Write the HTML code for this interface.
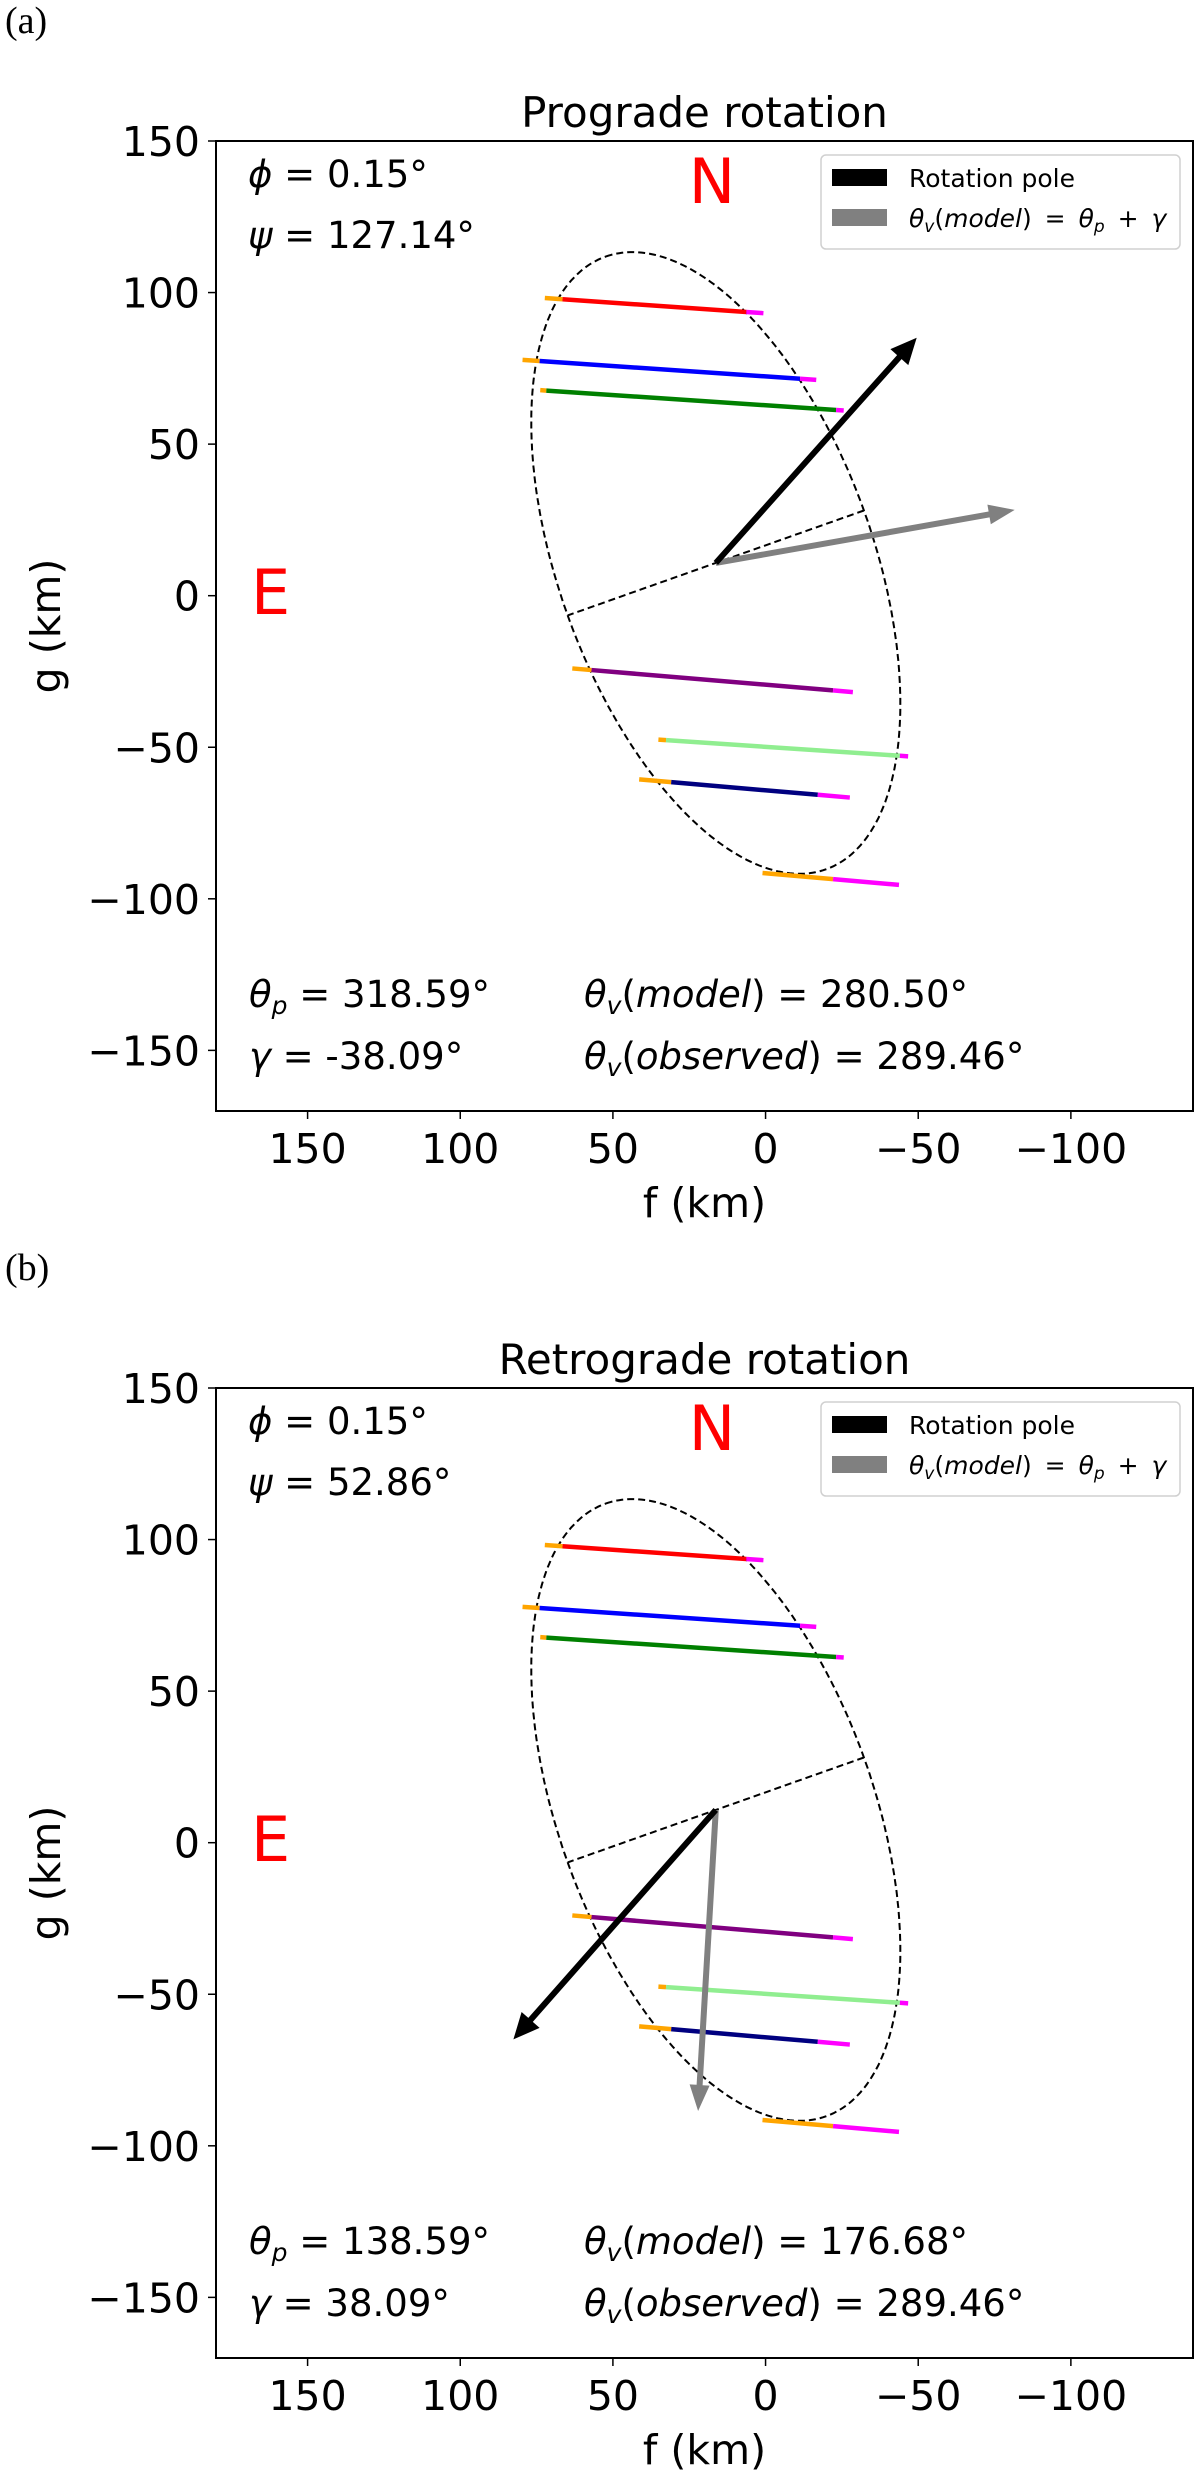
<!DOCTYPE html>
<html><head><meta charset="utf-8">
<style>
html,body{margin:0;padding:0;background:#fff;}
svg{display:block;}
text{font-family:"DejaVu Sans","Liberation Sans",sans-serif;fill:#000;}
text.serif{font-family:"Liberation Serif",serif;}
</style></head>
<body>
<svg id="fig" width="1200" height="2476" viewBox="0 0 1200 2476" xmlns="http://www.w3.org/2000/svg"></svg>
<script>
// ---- data ----
const xTicks = [150, 100, 50, 0, -50, -100];
const yTicks = [150, 100, 50, 0, -50, -100, -150];
const chordColors = ["red", "blue", "green", "purple", "#90ee90", "navy", "orange"];
const chordF0 = [72.3, 79.6, 73.8, 63.3, 35.1, 41.4, 1.0];
const chordG0 = [98.2, 77.8, 67.8, -24.0, -47.5, -60.6, -91.5];
const chordFa = [66.5, 74.0, 71.8, 57.0, 32.6, 30.9, -22.1];
const chordFb = [6.3, -11.3, -23.1, -22.1, -44.0, -17.1, -22.1];
const chordF1 = [0.7, -16.6, -25.6, -28.6, -46.7, -27.6, -43.7];
const chordG1 = [93.2, 71.2, 61.1, -31.8, -53.0, -66.6, -95.4];
const ellipseCenter = [16.3, 10.8];
const ellipseAxes = [107.3, 51.5]; // semi-major, semi-minor (km)
const ellipseMajorDir = [0.336, 0.942];
const panelTitles = ["Prograde rotation", "Retrograde rotation"];
const panelLetters = ["(a)", "(b)"];
const poleTips = [[-49.5, 85.1], [82.6, -64.9]];
const velTips = [[-81.6, 28.3], [22.1, -88.5]];
const psiVals = ["127.14°", "52.86°"];
const thetaPVals = ["318.59°", "138.59°"];
const gammaVals = ["-38.09°", "38.09°"];
const modelVals = ["280.50°", "176.68°"];
const observedVals = ["289.46°", "289.46°"];
const phiVal = "0.15°";

const NS = "http://www.w3.org/2000/svg";
const svg = document.getElementById("fig");
function mk(tag, attrs, parent) {
  const e = document.createElementNS(NS, tag);
  for (const k in attrs) e.setAttribute(k, attrs[k]);
  (parent || svg).appendChild(e);
  return e;
}

const AX_L = 216, AX_R = 1193, AX_T0 = 141, AX_H = 970;
const XMIN = 180, XMAX = -140, YMIN = -170, YMAX = 150;

for (let p = 0; p < 2; p++) {
  const off = p * 1247;
  const top = AX_T0 + off, bot = top + AX_H;
  const sx = f => AX_L + (XMIN - f) / (XMIN - XMAX) * (AX_R - AX_L);
  const sy = g => top + (YMAX - g) / (YMAX - YMIN) * AX_H;
  const G = mk("g", {});
  
  

  const letter = mk("text", {x: 5, y: 33 + off, "class": "serif", "font-size": 38}, G);
  letter.textContent = panelLetters[p];
  
  

  const title = mk("text", {x: (AX_L + AX_R) / 2, y: top - 14, "text-anchor": "middle", "font-size": 42}, G);
  title.textContent = panelTitles[p];
  
  

  // ellipse
  let pts = [];
  const [a, b] = ellipseAxes, [ux, uy] = ellipseMajorDir, vx = -uy, vy = ux;
  for (let i = 0; i <= 360; i++) {
    const t = i * Math.PI / 180;
    const f = ellipseCenter[0] + a * Math.cos(t) * ux + b * Math.sin(t) * vx;
    const g = ellipseCenter[1] + a * Math.cos(t) * uy + b * Math.sin(t) * vy;
    pts.push(sx(f).toFixed(1) + "," + sy(g).toFixed(1));
  }
  const ell = mk("polyline", {points: pts.join(" "), fill: "none", stroke: "#000", "stroke-width": 2, "stroke-dasharray": "7,4"}, G);
  
  
  const e1 = [ellipseCenter[0] + b * vx, ellipseCenter[1] + b * vy];
  const e2 = [ellipseCenter[0] - b * vx, ellipseCenter[1] - b * vy];
  const minor = mk("line", {x1: sx(e1[0]), y1: sy(e1[1]), x2: sx(e2[0]), y2: sy(e2[1]), stroke: "#000", "stroke-width": 2, "stroke-dasharray": "7,4"}, G);
  
  

  // chords
  for (let i = 0; i < chordF0.length; i++) {
    const gi = f => chordG0[i] + (f - chordF0[i]) / (chordF1[i] - chordF0[i]) * (chordG1[i] - chordG0[i]);
    const segs = [[chordF0[i], chordFa[i], "orange"], [chordFa[i], chordFb[i], chordColors[i]], [chordFb[i], chordF1[i], "magenta"]];
    for (const s of segs) {
      if (Math.abs(s[1] - s[0]) < 0.01) continue;
      const l = mk("line", {x1: sx(s[0]), y1: sy(gi(s[0])), x2: sx(s[1]), y2: sy(gi(s[1])), stroke: s[2], "stroke-width": 4.5}, G);
      
      
    }
  }

  // arrows
  function arrow(tip, color, sw, hw, hl, name) {
    const x0 = sx(ellipseCenter[0]), y0 = sy(ellipseCenter[1]);
    const x1 = sx(tip[0]), y1 = sy(tip[1]);
    const dx = x1 - x0, dy = y1 - y0, L = Math.hypot(dx, dy);
    const ux = dx / L, uy = dy / L, nx = -uy, ny = ux;
    const bx = x1 - ux * hl, by = y1 - uy * hl;
    const P = [
      [x0 + nx * sw / 2, y0 + ny * sw / 2], [bx + nx * sw / 2, by + ny * sw / 2],
      [bx + nx * hw / 2, by + ny * hw / 2], [x1, y1],
      [bx - nx * hw / 2, by - ny * hw / 2], [bx - nx * sw / 2, by - ny * sw / 2],
      [x0 - nx * sw / 2, y0 - ny * sw / 2]];
    const el = mk("polygon", {points: P.map(q => q[0].toFixed(1) + "," + q[1].toFixed(1)).join(" "), fill: color}, G);
    
    
  }
  arrow(velTips[p], "#808080", 6, 20, 26, 'velocity-arrow');
  arrow(poleTips[p], "#000", 6, 24, 26, 'pole-arrow');

  // labels N E
  const N = mk("text", {x: 712, y: top + 62, "text-anchor": "middle", "font-size": 62}, G);
  N.textContent = "N"; N.style.fill = "red";
  
  
  const E = mk("text", {x: 251, y: top + 473, "font-size": 62}, G);
  E.textContent = "E"; E.style.fill = "red";
  
  

  // annotations
  function ann(x, y, html, name) {
    const t = mk("text", {x: x, y: y, "font-size": 37}, G);
    t.innerHTML = html;
    
    
  }
  ann(248, top + 46, '<tspan font-style="italic">ϕ</tspan> = ' + phiVal, 'phi-annotation');
  ann(248, top + 107, '<tspan font-style="italic">ψ</tspan> = ' + psiVals[p], 'psi-annotation');
  ann(249, top + 866, '<tspan font-style="italic">θ</tspan><tspan font-style="italic" font-size="25" dy="7">p</tspan><tspan dy="-7"> = ' + thetaPVals[p] + '</tspan>', 'theta-p-annotation');
  ann(249, top + 928, '<tspan font-style="italic">γ</tspan> = ' + gammaVals[p], 'gamma-annotation');
  ann(584, top + 866, '<tspan font-style="italic">θ</tspan><tspan font-style="italic" font-size="25" dy="7">v</tspan><tspan dy="-7">(</tspan><tspan font-style="italic">model</tspan>) = ' + modelVals[p], 'theta-model-annotation');
  ann(584, top + 928, '<tspan font-style="italic">θ</tspan><tspan font-style="italic" font-size="25" dy="7">v</tspan><tspan dy="-7">(</tspan><tspan font-style="italic">observed</tspan>) = ' + observedVals[p], 'theta-observed-annotation');

  // legend
  const lg = mk("g", {}, G);
  
  
  mk("rect", {x: 821, y: top + 14, width: 359, height: 94, rx: 5, fill: "#fff", stroke: "#d0d0d0", "stroke-width": 1.5}, lg);
  const p1 = mk("rect", {x: 832, y: top + 28, width: 55, height: 17, fill: "#000"}, lg);
  
  
  const p2 = mk("rect", {x: 832, y: top + 68, width: 55, height: 17, fill: "#808080"}, lg);
  
  
  const t1 = mk("text", {x: 909, y: top + 46, "font-size": 25}, lg);
  t1.textContent = "Rotation pole";
  const t2 = mk("text", {x: 909, y: top + 86, "font-size": 25, "word-spacing": 5}, lg);
  t2.innerHTML = '<tspan font-style="italic">θ</tspan><tspan font-style="italic" font-size="17" dy="5">v</tspan><tspan dy="-5">(</tspan><tspan font-style="italic">model</tspan>) = <tspan font-style="italic">θ</tspan><tspan font-style="italic" font-size="17" dy="5">p</tspan><tspan dy="-5"> + </tspan><tspan font-style="italic">γ</tspan>';

  // frame
  const fr = mk("rect", {x: AX_L, y: top, width: AX_R - AX_L, height: AX_H, fill: "none", stroke: "#000", "stroke-width": 2}, G);
  
  

  // ticks
  for (const v of xTicks) {
    const x = sx(v);
    mk("line", {x1: x, y1: bot, x2: x, y2: bot + 8, stroke: "#000", "stroke-width": 1.5}, G);
    const t = mk("text", {x: x, y: bot + 52, "text-anchor": "middle", "font-size": 41}, G);
    t.textContent = v < 0 ? "\u2212" + (-v) : String(v);
    
    
  }
  for (const v of yTicks) {
    const y = sy(v);
    mk("line", {x1: AX_L - 8, y1: y, x2: AX_L, y2: y, stroke: "#000", "stroke-width": 1.5}, G);
    const t = mk("text", {x: AX_L - 16, y: y + 15, "text-anchor": "end", "font-size": 41}, G);
    t.textContent = v < 0 ? "\u2212" + (-v) : String(v);
    
    
  }
  const xl = mk("text", {x: (AX_L + AX_R) / 2, y: bot + 106, "text-anchor": "middle", "font-size": 41}, G);
  xl.textContent = "f (km)";
  
  
  const yc = (top + bot) / 2;
  const yl = mk("text", {x: 60, y: yc, "text-anchor": "middle", "font-size": 41, transform: "rotate(-90 60 " + yc + ")"}, G);
  yl.textContent = "g (km)";
  
  
}
</script>
</body></html>
